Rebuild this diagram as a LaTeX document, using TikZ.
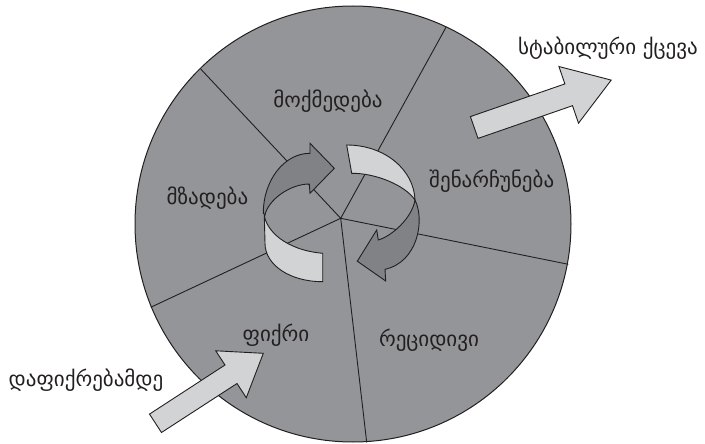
\documentclass[tikz,border=0pt]{standalone}
\usepackage{fontspec}
\setmainfont{DejaVu Sans}
\definecolor{disk}{HTML}{939598}
\definecolor{darkband}{HTML}{808285}
\definecolor{lightband}{HTML}{D1D3D4}
\definecolor{ink}{HTML}{231F20}
\begin{document}
\begin{tikzpicture}[x=1pt,y=-1pt,
  edge/.style={draw=ink,line width=0.9pt,line join=miter},
  spoke/.style={draw=ink,line width=0.9pt},
  lbl/.style={font=\fontsize{21}{25}\selectfont,text=ink,inner sep=0pt}]
\useasboundingbox (0,0) rectangle (705,444);
% disk
\filldraw[fill=disk,draw=ink,line width=1pt] (353,224) circle[radius=218pt];
% spokes
\coordinate (c) at (340.7,218.3);
\coordinate (s1) at (200.7,69);
\coordinate (s2) at (446,27.3);
\coordinate (s3) at (568.3,264.3);
\coordinate (s4) at (366.7,442.3);
\coordinate (s5) at (150.7,307.3);
\foreach \s in {s1,s2,s3,s4,s5} \draw[spoke] (c) -- (\s);
% left curved arrow: dark back part
\path[edge,fill=darkband] (334.3,168.3) -- (310,143.3) -- (310,153.3)
  .. controls (284.2,153.3) and (263.3,180.2) .. (263.3,213.3)
  -- (265,215)
  .. controls (268,200) and (290,184) .. (309.3,184)
  -- (310,193.3) -- cycle;
% left curved arrow: light front part
\path[edge,fill=lightband] (264.3,215)
  .. controls (266,230) and (285,250) .. (322.7,253.3)
  -- (322.7,281.7)
  .. controls (290,281.7) and (265,265) .. (265,243.3) -- cycle;
% right curved arrow: light back part
\path[edge,fill=lightband] (346.7,145)
  .. controls (385,145) and (414,170) .. (415,200)
  .. controls (405,185) and (375,173) .. (351.7,173.3) -- cycle;
% right curved arrow: dark front part
\path[edge,fill=darkband] (415,200)
  .. controls (425,220) and (418,262) .. (385,269.3)
  -- (385.7,281) -- (357.3,261.2) -- (376.7,230) -- (378.3,240)
  .. controls (392,236) and (412,218) .. cycle;
% straight arrow out (top right)
\path[edge,fill=lightband] (470.4,116.6) -- (564.9,83.9) -- (558.9,66.5)
  -- (611.2,80.1) -- (578.5,123.2) -- (572.5,105.7) -- (478,138.4) -- cycle;
% straight arrow in (bottom left)
\path[edge,fill=lightband] (149.5,414.1) -- (225,365) -- (215.7,350.8)
  -- (263.3,353.3) -- (246.3,397.7) -- (237,383.5) -- (161.5,432.5) -- cycle;
% labels
\node[lbl] (moq) at (328,101) {მოქმედება};
\node[lbl] (mza) at (207.5,198) {მზადება};
\node[lbl] (she) at (491.7,181) {შენარჩუნება};
\node[lbl] (fiq) at (276,335) {ფიქრი};
\node[lbl] (rec) at (429,340) {რეციდივი};
\node[lbl] (sta) at (608,48) {სტაბილური ქცევა};
\node[lbl] (daf) at (86,380) {დაფიქრებამდე};
\end{tikzpicture}
\end{document}
